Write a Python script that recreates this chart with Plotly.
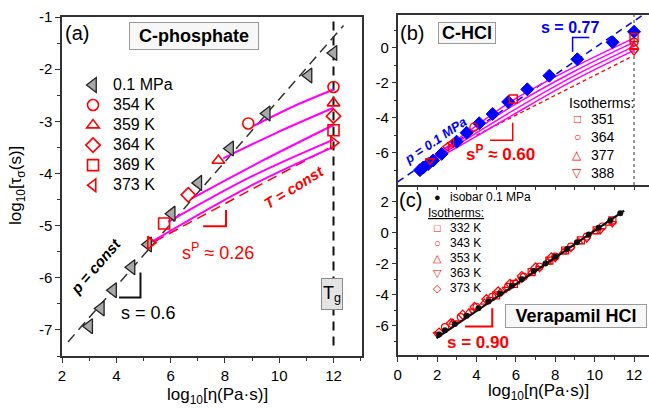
import plotly.graph_objects as go

W, H = 649, 409
FONT = "Arial, Liberation Sans, Helvetica, sans-serif"
RED = "#ff0000"
MAG = "#ff00ff"
BLUE = "#0000ff"
GRAY = "#a8a8a8"
AX = "#333333"

# ---------------- panel (a): C-phosphate ----------------
a_iso_name = "0.1 MPa"
a_iso_x = [3.00, 3.43, 3.88, 4.56, 5.17, 6.04, 7.02, 8.19, 9.54, 11.08, 12.0]
a_iso_y = [-6.93, -6.59, -6.24, -5.80, -5.36, -4.77, -4.18, -3.52, -2.85, -2.12, -1.69]
a_temps = ["354 K", "359 K", "364 K", "369 K", "373 K"]
a_symbols = ["circle-open", "triangle-up-open", "diamond-open", "square-open", "triangle-right-open"]
a_legend_symbols = ["circle-open", "triangle-up-open", "diamond-open", "square-open", "triangle-left-open"]
a_pt_x = [[8.86, 12.0], [7.76, 12.0], [6.65, 12.0], [5.76, 12.0], [5.26, 12.0]]
a_pt_y = [[-3.04, -2.34], [-3.75, -2.65], [-4.41, -2.90], [-4.96, -3.17], [-5.33, -3.41]]
a_fit_x = [[9.05, 10.5, 12.0], [7.94, 9.9, 12.0], [6.77, 9.4, 12.0], [5.91, 8.93, 12.0], [5.30, 8.9, 12.0]]
a_fit_y = [[-3.09, -2.72, -2.39], [-3.71, -3.22, -2.74], [-4.48, -3.75, -3.07],
           [-4.93, -4.07, -3.35], [-5.31, -4.25, -3.49]]
a_pconst_x = [2.22, 12.37]
a_pconst_y = [-7.23, -1.16]
a_tconst_x = [5.42, 11.8]
a_tconst_y = [-5.30, -3.52]
a_tg_x = [12.0, 12.0]
a_tg_y = [-7.3, -1.0]
a_s_x = [4.89, 4.89, 4.10]
a_s_y = [-5.90, -6.38, -6.38]
a_sp_x = [8.04, 8.04, 7.20]
a_sp_y = [-4.70, -5.01, -5.01]
a_xticks = [2, 4, 6, 8, 10, 12]
a_yticks = [-1, -2, -3, -4, -5, -6, -7]

# ---------------- panel (b): C-HCl ----------------
b_iso_x = [1.13, 1.30, 1.55, 1.80, 2.23, 2.99, 3.50, 4.14, 4.82, 5.61, 6.58, 7.70, 9.12, 10.91, 12.0]
b_iso_y = [-7.00, -6.85, -6.65, -6.45, -6.07, -5.37, -4.86, -4.32, -3.79, -3.10, -2.38, -1.60, -0.66, 0.31, 0.91]
b_temps = ["351", "364", "377", "388"]
b_symbols = [["square-open"] * 2, ["circle-open"] * 2,
             ["triangle-left-open", "triangle-left-open", "triangle-up-open"], ["triangle-down-open"] * 2]
b_pt_x = [[5.87, 12.0], [3.87, 12.0], [2.49, 2.74, 12.0], [1.64, 12.0]]
b_pt_y = [[-2.93, 0.58], [-4.55, 0.32], [-5.66, -5.46, 0.06], [-6.46, -0.20]]
b_fit_x = [1.5, 3.86, 5.87, 9.0, 12.0]
b_fit_y = [[-6.50, -4.57, -2.99, -1.08, 0.55], [-6.55, -4.78, -3.30, -1.33, 0.32],
           [-6.60, -4.97, -3.58, -1.58, 0.08], [-6.65, -5.15, -3.83, -1.83, -0.15]]
b_p01_x = [0.0, 12.45]
b_p01_y = [-7.67, 1.87]
b_tconst_x = [4.0, 11.9]
b_tconst_y = [-5.0, -0.5]
b_tg_x = [12.0, 12.0]
b_tg_y = [-7.85, 1.87]
b_s_x = [9.73, 8.88, 8.88]
b_s_y = [0.59, 0.59, -0.23]
b_sp_x = [5.84, 5.84, 4.69]
b_sp_y = [-4.29, -5.29, -5.29]
b_yticks = [0, -2, -4, -6]

# ---------------- panel (c): Verapamil HCl ----------------
c_iso_x = [2.1, 2.4, 2.9, 3.5, 4.1, 4.6, 5.2, 5.8, 6.3, 6.9, 7.5, 8.0, 8.6, 9.1, 9.7, 10.2, 10.8, 11.3]
c_iso_y = [-6.57, -6.30, -5.90, -5.37, -4.88, -4.44, -3.95, -3.42, -3.01, -2.48, -1.99, -1.55,
           -1.06, -0.61, -0.12, 0.32, 0.80, 1.26]
c_temps = ["332 K", "343 K", "353 K", "363 K", "373 K"]
c_symbols = ["square-open", "circle-open", "triangle-up-open", "triangle-down-open", "diamond-open"]
c_glyphs = ["\u25a1", "\u25cb", "\u25b3", "\u25bd", "\u25c7"]
c_pt_x = [[5.0, 5.9, 6.8, 7.7, 8.5, 9.3, 10.1, 10.9],
          [2.4, 3.2, 4.0, 4.8, 5.6, 6.4, 7.2, 8.0, 8.8, 9.6, 10.4],
          [2.8, 3.6, 4.4, 5.2, 6.0, 6.8, 7.6, 8.4, 9.2, 10.0, 10.7],
          [2.0, 2.9, 3.8, 4.7, 5.5, 6.3, 7.2, 8.0, 8.8, 9.6, 10.3, 10.9],
          [2.1, 2.7, 3.3, 3.9, 4.5, 5.1, 5.7, 6.3, 7.0, 7.8]]
c_pt_y = [[-4.05, -3.30, -2.55, -1.80, -1.15, -0.50, 0.15, 0.80],
          [-6.10, -5.45, -4.80, -4.15, -3.50, -2.85, -2.20, -1.55, -0.90, -0.25, 0.40],
          [-5.80, -5.15, -4.50, -3.85, -3.20, -2.55, -1.90, -1.25, -0.60, 0.05, 0.60],
          [-6.55, -5.80, -5.05, -4.30, -3.65, -3.00, -2.30, -1.65, -1.00, -0.40, 0.15, 0.60],
          [-6.45, -5.85, -5.30, -4.80, -4.30, -3.80, -3.30, -2.80, -2.25, -1.60]]
c_fit_x = [1.97, 11.5]
c_fit_y = [-6.81, 1.42]
c_s_x = [4.8, 4.8, 3.42]
c_s_y = [-4.88, -6.06, -6.06]
c_yticks = [2, 0, -2, -4, -6]
c_xticks = [0, 2, 4, 6, 8, 10, 12]

fig = go.Figure()


def line(x, y, xa, ya, color, width=1.5, dash=None, shape="linear"):
    fig.add_trace(go.Scatter(x=x, y=y, xaxis=xa, yaxis=ya, mode="lines", showlegend=False,
                             hoverinfo="skip",
                             line=dict(color=color, width=width, dash=dash, shape=shape)))


# ---- panel (a) traces ----
line(a_tg_x, a_tg_y, "x", "y", "#111111", 2, "9px,6px")
line(a_pconst_x, a_pconst_y, "x", "y", "#333333", 1.5, "10px,6px")
line(a_tconst_x, a_tconst_y, "x", "y", RED, 1.5, "10px,6px")
for fx, fy in zip(a_fit_x, a_fit_y):
    line(fx, fy, "x", "y", MAG, 2, None, "spline")
line(a_s_x, a_s_y, "x", "y", "#111111", 2)
line(a_sp_x, a_sp_y, "x", "y", RED, 2)

fig.add_trace(go.Scatter(x=a_iso_x, y=a_iso_y, xaxis="x", yaxis="y", mode="markers",
                         name='<span style="font-size:16px">%s</span>' % a_iso_name,
                         legend="legend",
                         marker=dict(symbol="triangle-left", size=13, color=GRAY,
                                     line=dict(color="#222222", width=1.3))))
for i, t in enumerate(a_temps):
    fig.add_trace(go.Scatter(x=a_pt_x[i], y=a_pt_y[i], xaxis="x", yaxis="y", mode="markers",
                             showlegend=False,
                             marker=dict(symbol=a_symbols[i], size=11, color=RED,
                                         line=dict(color=RED, width=1.6))))
    fig.add_trace(go.Scatter(x=[None], y=[None], xaxis="x", yaxis="y", mode="markers",
                             name='<span style="font-size:16px">%s</span>' % t, legend="legend",
                             marker=dict(symbol=a_legend_symbols[i], size=11, color=RED,
                                         line=dict(color=RED, width=1.6))))

# ---- panel (b) traces ----
line(b_tg_x, b_tg_y, "x2", "y2", "#777777", 1.5, "dot")
line(b_p01_x, b_p01_y, "x2", "y2", BLUE, 1.5, "7px,5px")
line(b_tconst_x, b_tconst_y, "x2", "y2", RED, 1.3, "4px,3px")
for fy in b_fit_y:
    line(b_fit_x, fy, "x2", "y2", MAG, 1.5, None, "spline")
line(b_s_x, b_s_y, "x2", "y2", BLUE, 1.5)
line(b_sp_x, b_sp_y, "x2", "y2", RED, 1.5)
fig.add_trace(go.Scatter(x=b_iso_x, y=b_iso_y, xaxis="x2", yaxis="y2", mode="markers",
                         showlegend=False,
                         marker=dict(symbol="diamond", size=10, color=BLUE,
                                     line=dict(color=BLUE, width=1))))
for i, t in enumerate(b_temps):
    fig.add_trace(go.Scatter(x=b_pt_x[i], y=b_pt_y[i], xaxis="x2", yaxis="y2", mode="markers",
                             showlegend=False,
                             marker=dict(symbol=b_symbols[i], size=8, color=RED,
                                         line=dict(color=RED, width=1.4))))

# ---- panel (c) traces ----
for i, t in enumerate(c_temps):
    fig.add_trace(go.Scatter(x=c_pt_x[i], y=c_pt_y[i], xaxis="x3", yaxis="y3", mode="markers",
                             showlegend=False,
                             marker=dict(symbol=c_symbols[i], size=7, color=RED,
                                         line=dict(color=RED, width=1.2))))
fig.add_trace(go.Scatter(x=c_iso_x, y=c_iso_y, xaxis="x3", yaxis="y3", mode="markers",
                         showlegend=False, marker=dict(symbol="circle", size=6, color="#111111")))
line(c_fit_x, c_fit_y, "x3", "y3", "#111111", 2.2)
line(c_s_x, c_s_y, "x3", "y3", RED, 2)


def px(x):
    return x / W


def py(y):
    return 1 - y / H


ann = []


def A(text, x, y, size=15, color="black", angle=0, xanchor="center", **kw):
    d = dict(text=text, x=px(x), y=py(y), xref="paper", yref="paper", showarrow=False,
             xanchor=xanchor, yanchor="middle", textangle=angle,
             font=dict(family=FONT, size=size, color=color))
    d.update(kw)
    ann.append(d)


BOX = dict(bgcolor="#f7f7f7", bordercolor="#9a9a9a", borderwidth=1)
# panel (a)
A("(a)", 77, 33, 20)
A("<b>C-phosphate</b>", 194, 36, 18, width=124, height=22, borderpad=2, **BOX)
A("<b><i>p = const</i></b>", 95, 266, 15, angle=-49)
A("s = 0.6", 148, 313, 18)
A("s<sup>P</sup> \u2248 0.26", 218, 252, 18, RED)
A("<b><i>T = const</i></b>", 293, 187, 15, RED, angle=-32)
A("T<sub>g</sub>", 332, 294, 18, width=18, height=28, borderpad=1,
  bgcolor="#e4e4e4", bordercolor="#8a8a8a", borderwidth=1)
A("log<sub>10</sub>[\u03b7(Pa\u00b7s)]", 217, 396, 17)
A("log<sub>10</sub>[\u03c4<sub>\u03c3</sub>(s)]", 17, 186, 17, angle=-90)
# panel (b)
A("(b)", 412, 33, 20)
A("<b>C-HCl</b>", 467, 33, 18, width=54, height=18, borderpad=1, **BOX)
A("<b>s = 0.77</b>", 570, 27, 16, BLUE)
A("<b><i>p = 0.1 MPa</i></b>", 435, 140, 13, BLUE, angle=-34)
A("<b>s<sup>P</sup> \u2248 0.60</b>", 500, 153, 17, RED)
A("Isotherms:", 567, 103, 14, xanchor="left")
b_glyphs = ["\u25a1", "\u25cb", "\u25b3", "\u25bd"]
for i, t in enumerate(b_temps):
    yy = 119.3 + 18 * i
    A(b_glyphs[i], 577, yy, 12, RED)
    A(t, 589, yy, 14, xanchor="left")
# panel (c)
A("(c)", 410, 200, 20)
A("\u25cf", 437, 197, 11, "#111111")
A("isobar 0.1 MPa", 448, 197, 12, xanchor="left")
A("<u>Isotherms:</u>", 426, 213, 12, xanchor="left")
for i, t in enumerate(c_temps):
    yy = 228.3 + 15 * i
    A(c_glyphs[i], 437, yy, 11, RED)
    A(t, 448, yy, 12, xanchor="left")
A("<b>s = 0.90</b>", 478, 342, 17, RED)
A("<b>Verapamil HCl</b>", 576, 316, 18, width=136, height=18, borderpad=2, **BOX)
A("log<sub>10</sub>[\u03b7(Pa\u00b7s)]", 538, 392, 17)

common = dict(showgrid=False, zeroline=False, showline=True, linecolor=AX, linewidth=1.5,
              ticks="outside", tickcolor=AX, tickwidth=1.2, automargin=False,
              tickfont=dict(family=FONT, size=15, color="black"))

fig.update_layout(
    width=W, height=H, margin=dict(l=0, r=0, t=0, b=0, autoexpand=False),
    paper_bgcolor="white", plot_bgcolor="white",
    font=dict(family=FONT, color="black"),
    annotations=ann,
    legend=dict(x=px(73), y=py(70), xanchor="left", yanchor="top", bgcolor="rgba(0,0,0,0)",
                font=dict(family=FONT, size=13.1, color="black"), traceorder="normal"),
    xaxis=dict(domain=[px(62), px(362)], range=[1.999, 13.05], anchor="y", mirror=True,
               tickmode="array", tickvals=a_xticks, ticktext=[str(v) for v in a_xticks], ticklen=5,
               minor=dict(tickvals=[3, 5, 7, 9, 11, 13], ticks="outside", ticklen=3, tickcolor=AX),
               **common),
    yaxis=dict(domain=[py(356), py(17)], range=[-7.5, -0.999], anchor="x", mirror=True,
               tickmode="array", tickvals=a_yticks, ticktext=[str(v) for v in a_yticks], ticklen=5,
               minor=dict(tickvals=[-1.5, -2.5, -3.5, -4.5, -5.5, -6.5, -7.5], ticks="outside",
                          ticklen=3, tickcolor=AX),
               **common),
    xaxis2=dict(domain=[px(397.7), 1.0], range=[0, 12.76], anchor="y2", mirror=True,
                showticklabels=False, tickmode="linear", tick0=0, dtick=1, ticklen=3, **common),
    yaxis2=dict(domain=[py(185), py(15)], range=[-7.85, 1.87], anchor="x2",
                tickmode="array", tickvals=b_yticks, ticktext=[str(v) for v in b_yticks], ticklen=4,
                minor=dict(tickvals=[1, -1, -3, -5, -7], ticks="outside", ticklen=2, tickcolor=AX),
                **common),
    xaxis3=dict(domain=[px(397.7), 1.0], range=[-0.001, 12.76], anchor="y3",
                tickmode="array", tickvals=c_xticks, ticktext=[str(v) for v in c_xticks], ticklen=5,
                minor=dict(tickvals=[1, 3, 5, 7, 9, 11], ticks="outside", ticklen=3, tickcolor=AX),
                **common),
    yaxis3=dict(domain=[py(355), py(185)], range=[-7.9, 3.08], anchor="x3",
                tickmode="array", tickvals=c_yticks, ticktext=[str(v) for v in c_yticks], ticklen=4,
                minor=dict(tickvals=[1, -1, -3, -5, -7], ticks="outside", ticklen=2, tickcolor=AX),
                **common),
)

fig.write_html("out.html", config=dict(displayModeBar=False),
               post_script="document.body.style.margin='0px';document.body.style.overflow='hidden';")
